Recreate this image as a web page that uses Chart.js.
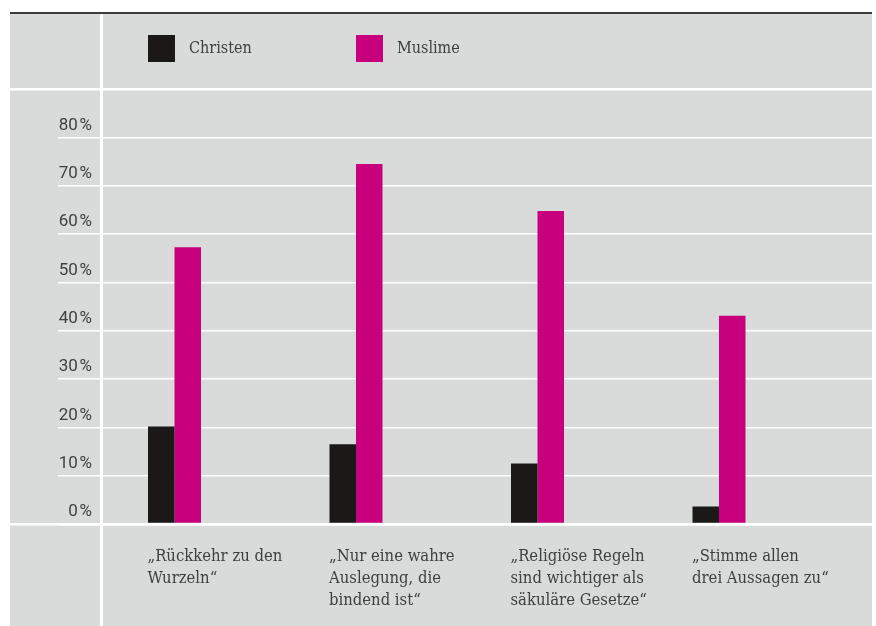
<!DOCTYPE html>
<html>
<head>
<meta charset="utf-8">
<script src="https://cdn.jsdelivr.net/npm/chart.js@4"></script>
<style>
  html, body { margin: 0; padding: 0; background: #ffffff; }
  #wrap { width: 876px; height: 626px; position: relative; }
</style>
</head>
<body>
<div id="wrap"><canvas id="c" width="876" height="626"></canvas></div>
<script>
// ---- data ----
const categories = [
  ['„Rückkehr zu den', 'Wurzeln“'],
  ['„Nur eine wahre', 'Auslegung, die', 'bindend ist“'],
  ['„Religiöse Regeln', 'sind wichtiger als', 'säkuläre Gesetze“'],
  ['„Stimme allen', 'drei Aussagen zu“']
];
const seriesNames = ['Christen', 'Muslime'];
const christen = [20.2, 16.5, 12.5, 3.6];
const muslime = [57.3, 74.5, 64.8, 43.1];
const yTicks = [0, 10, 20, 30, 40, 50, 60, 70, 80];
const yTickLabels = ['0\u200A%', '10\u200A%', '20\u200A%', '30\u200A%', '40\u200A%', '50\u200A%', '60\u200A%', '70\u200A%', '80\u200A%'];

// ---- styles ----
const COLORS = ['#1b1918', '#c8007d'];
const PANEL = '#d9dada';
const TEXT = '#3f3f3f';
const SERIF = '"DejaVu Serif Condensed", "DejaVu Serif", serif';
const SANS = 'Roboto, "Noto Sans", sans-serif';

const toPoints = arr => arr.map((v, i) => ({ x: i, y: v }));

const decorPlugin = {
  id: 'decor',
  beforeDraw(chart) {
    const ctx = chart.ctx;
    const y0 = chart.scales.y.getPixelForValue(0);
    ctx.save();
    ctx.fillStyle = PANEL;
    ctx.fillRect(10, 13, 862, 613);
    ctx.fillStyle = '#3c3c3c';
    ctx.fillRect(10, 12, 862, 2);
    ctx.fillStyle = '#ffffff';
    ctx.fillRect(100, 14, 3, 612);
    ctx.fillRect(10, 88, 862, 2.5);
    ctx.fillRect(10, y0 - 1, 862, 2.5);
    ctx.restore();
  },
  afterDraw(chart) {
    const ctx = chart.ctx;
    const xs = [148, 356];
    ctx.save();
    chart.data.datasets.forEach((ds, i) => {
      ctx.fillStyle = ds.backgroundColor;
      ctx.fillRect(xs[i], 35, 27, 27);
      ctx.fillStyle = TEXT;
      ctx.font = '16px ' + SERIF;
      ctx.textAlign = 'left';
      ctx.textBaseline = 'middle';
      ctx.fillText(ds.label, xs[i] + 41, 48.5);
    });
    ctx.restore();
  }
};

new Chart(document.getElementById('c'), {
  type: 'bar',
  data: {
    datasets: [
      { label: seriesNames[0], data: toPoints(christen), backgroundColor: COLORS[0] },
      { label: seriesNames[1], data: toPoints(muslime), backgroundColor: COLORS[1] }
    ]
  },
  plugins: [decorPlugin],
  options: {
    responsive: false,
    animation: false,
    devicePixelRatio: 1,
    layout: { padding: { left: 10, right: 4, top: 137.5, bottom: 0 } },
    datasets: { bar: { categoryPercentage: 0.292, barPercentage: 1.0 } },
    plugins: { legend: { display: false }, tooltip: { enabled: false } },
    scales: {
      x: {
        type: 'linear',
        offset: false,
        min: -0.39945,
        max: 3.84298,
        grid: { display: false, offset: false },
        border: { display: false },
        afterBuildTicks(scale) { scale.ticks = categories.map((c, i) => ({ value: i })); },
        afterFit(scale) { scale.height = 102; scale.paddingLeft = 0; scale.paddingRight = 0; },
        ticks: {
          autoSkip: false,
          maxRotation: 0,
          minRotation: 0,
          align: 'start',
          labelOffset: -27,
          padding: 14,
          color: TEXT,
          font: { family: SERIF, size: 16.5, lineHeight: '22px' },
          callback: (v) => categories[v]
        }
      },
      y: {
        min: 0,
        max: 80,
        afterBuildTicks(scale) { scale.ticks = yTicks.map(v => ({ value: v })); },
        afterFit(scale) { scale.width = 92; scale.paddingTop = 0; scale.paddingBottom = 0; },
        border: { display: false },
        grid: {
          color: '#ffffff',
          lineWidth: (c) => (c.tick && c.tick.value === 0 ? 2.5 : 1.6),
          tickLength: 44,
          drawTicks: true
        },
        ticks: {
          autoSkip: false,
          padding: -34,
          color: TEXT,
          font: { family: SANS, size: 17, lineHeight: '24px' },
          callback: (v) => [yTickLabels[yTicks.indexOf(v)], '']
        }
      }
    }
  }
});
</script>
</body>
</html>
